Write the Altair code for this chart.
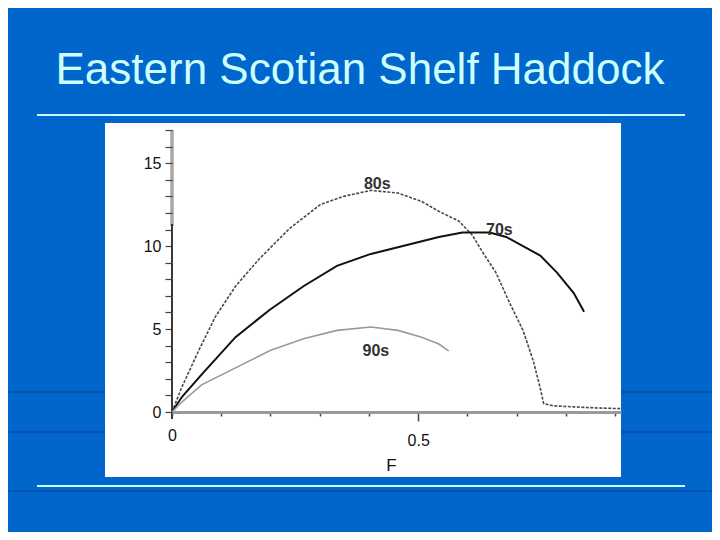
import altair as alt
import pandas as pd

# ---- data ----
f_80s = [0.0, 0.02, 0.054, 0.088, 0.129, 0.177, 0.239, 0.301, 0.349, 0.404, 0.459, 0.507, 0.542,
         0.583, 0.610, 0.631, 0.658, 0.686, 0.713, 0.734, 0.748, 0.755, 0.775, 0.816, 0.858, 0.912]
y_80s = [0.0, 1.5, 3.69, 5.74, 7.58, 9.22, 11.07, 12.5, 13.0, 13.36, 13.2, 12.7, 12.1,
         11.5, 10.66, 9.63, 8.4, 6.56, 4.92, 3.07, 1.43, 0.51, 0.37, 0.31, 0.25, 0.2]

f_70s = [0.0, 0.02, 0.060, 0.129, 0.198, 0.267, 0.335, 0.404, 0.473, 0.542, 0.590, 0.645,
         0.679, 0.748, 0.782, 0.816, 0.837]
y_70s = [0.0, 0.9, 2.25, 4.51, 6.15, 7.58, 8.81, 9.53, 10.04, 10.55, 10.82, 10.82,
         10.55, 9.43, 8.4, 7.17, 6.05]

f_90s = [0.0, 0.02, 0.060, 0.129, 0.198, 0.267, 0.335, 0.404, 0.459, 0.507, 0.542, 0.562]
y_90s = [0.0, 0.6, 1.64, 2.66, 3.69, 4.41, 4.92, 5.12, 4.92, 4.51, 4.10, 3.69]

label_names = ["80s", "70s", "90s"]
label_f = [0.417, 0.665, 0.414]
label_y = [13.75, 10.98, 3.66]

x_ticks = [0.0, 0.1, 0.2, 0.3, 0.4, 0.5, 0.6, 0.7, 0.8, 0.9]
y_ticks = list(range(0, 18))

title_text = "Eastern Scotian Shelf Haddock"
x_title = "F"

# ---- tables ----
rows = []
for name, fs, ys in [("80s", f_80s, y_80s), ("70s", f_70s, y_70s), ("90s", f_90s, y_90s)]:
    for i, (f, y) in enumerate(zip(fs, ys)):
        rows.append({"decade": name, "F": f, "Y": y, "order": i})
df = pd.DataFrame(rows)
labels = pd.DataFrame({"decade": label_names, "F": label_f, "Y": label_y})
one = alt.Data(values=[{"k": 1}])

xscale = alt.Scale(domain=[0, 0.912], nice=False, zero=True)
yscale = alt.Scale(domain=[0, 17], nice=False, zero=True)


def hrule(ypix, color, width, x0, x1):
    return alt.Chart(one).mark_rule(color=color, strokeWidth=width).encode(
        x=alt.value(x0), x2=alt.value(x1), y=alt.value(ypix))


# ---- slide decoration ----
bg1 = hrule(262, "#0A3F8A", 1, -172, 540)
bg2 = hrule(302, "#0A3F8A", 1, -172, 540)
bg3 = hrule(361, "#0A3F8A", 1, -172, 540)

panel = alt.Chart(one).mark_rect(color="white").encode(
    x=alt.value(-67), x2=alt.value(449), y=alt.value(-7), y2=alt.value(347))

rule_top = hrule(-15, "#CCFFFF", 2, -135, 513)
rule_bot = hrule(356, "#CCFFFF", 2, -135, 513)

title = alt.Chart(one).mark_text(
    text=title_text, font="Liberation Sans", fontSize=44, color="#CCFFFF",
    align="center", baseline="alphabetic").encode(x=alt.value(188), y=alt.value(-46))

# y axis line: light grey upper part, dark lower part (as in the scanned figure)
yaxis_light = alt.Chart(one).mark_rule(color="#a8a8a8", strokeWidth=3.5).encode(
    x=alt.value(0), y=alt.value(0), y2=alt.value(96))
yaxis_dark = alt.Chart(one).mark_rule(color="#222222", strokeWidth=1.8).encode(
    x=alt.value(0), y=alt.value(94), y2=alt.value(289))

# ---- plot ----
base = alt.Chart(df).encode(
    x=alt.X("F:Q", scale=xscale,
            axis=alt.Axis(values=x_ticks, format=".1~f", tickCount=20,
                          labelExpr="datum.value == 0 || datum.value == 0.5 ? datum.label : ''",
                          labelOverlap=False, labelFlush=False,
                          title=x_title, titleFontSize=17, titleFontWeight="normal",
                          titleColor="#111", titlePadding=9, titleX=219,
                          labelFontSize=16, labelColor="#111", labelPadding=11,
                          tickSize={"condition": {"test": "datum.value == 0.5", "value": 9},
                                    "value": 4},
                          tickColor="#444", tickWidth=1.5,
                          domainColor="#9a9a9a", domainWidth=3, grid=False, zindex=2,
                          labelFont="Liberation Sans", titleFont="Liberation Sans")),
    y=alt.Y("Y:Q", scale=yscale,
            axis=alt.Axis(values=y_ticks, tickCount=40, format="d",
                          labelExpr="datum.value % 5 == 0 ? datum.label : ''",
                          labelOverlap=False, labelFlush=False, domain=False,
                          title=None, labelFontSize=16, labelColor="#111", labelPadding=4,
                          tickSize=7, tickColor="#444", tickWidth=1.2,
                          grid=False, zindex=2,
                          labelFont="Liberation Sans")),
    order="order:Q",
)

l80 = base.transform_filter(alt.datum.decade == "80s").mark_line(
    color="#4a4a4a", strokeWidth=1.6, strokeDash=[3, 1.5])
l70 = base.transform_filter(alt.datum.decade == "70s").mark_line(
    color="#111111", strokeWidth=2)
l90 = base.transform_filter(alt.datum.decade == "90s").mark_line(
    color="#9a9a9a", strokeWidth=1.6)

txt = alt.Chart(labels).mark_text(
    font="Liberation Sans", fontSize=16, fontWeight="bold", color="#333").encode(
    x=alt.X("F:Q", scale=xscale), y=alt.Y("Y:Q", scale=yscale), text="decade:N")

chart = alt.layer(
    l80, bg1, bg2, bg3, panel, rule_top, rule_bot, title, yaxis_light, yaxis_dark,
    l80, l70, l90, txt
).properties(
    width=449, height=282,
    padding={"left": 164, "top": 122, "right": 91, "bottom": 120},
    autosize=alt.AutoSizeParams(type="none"),
    background="#0066CC",
).configure_view(strokeWidth=0, fill=None)

chart.save("out.html", embed_options={"renderer": "svg", "actions": False})
